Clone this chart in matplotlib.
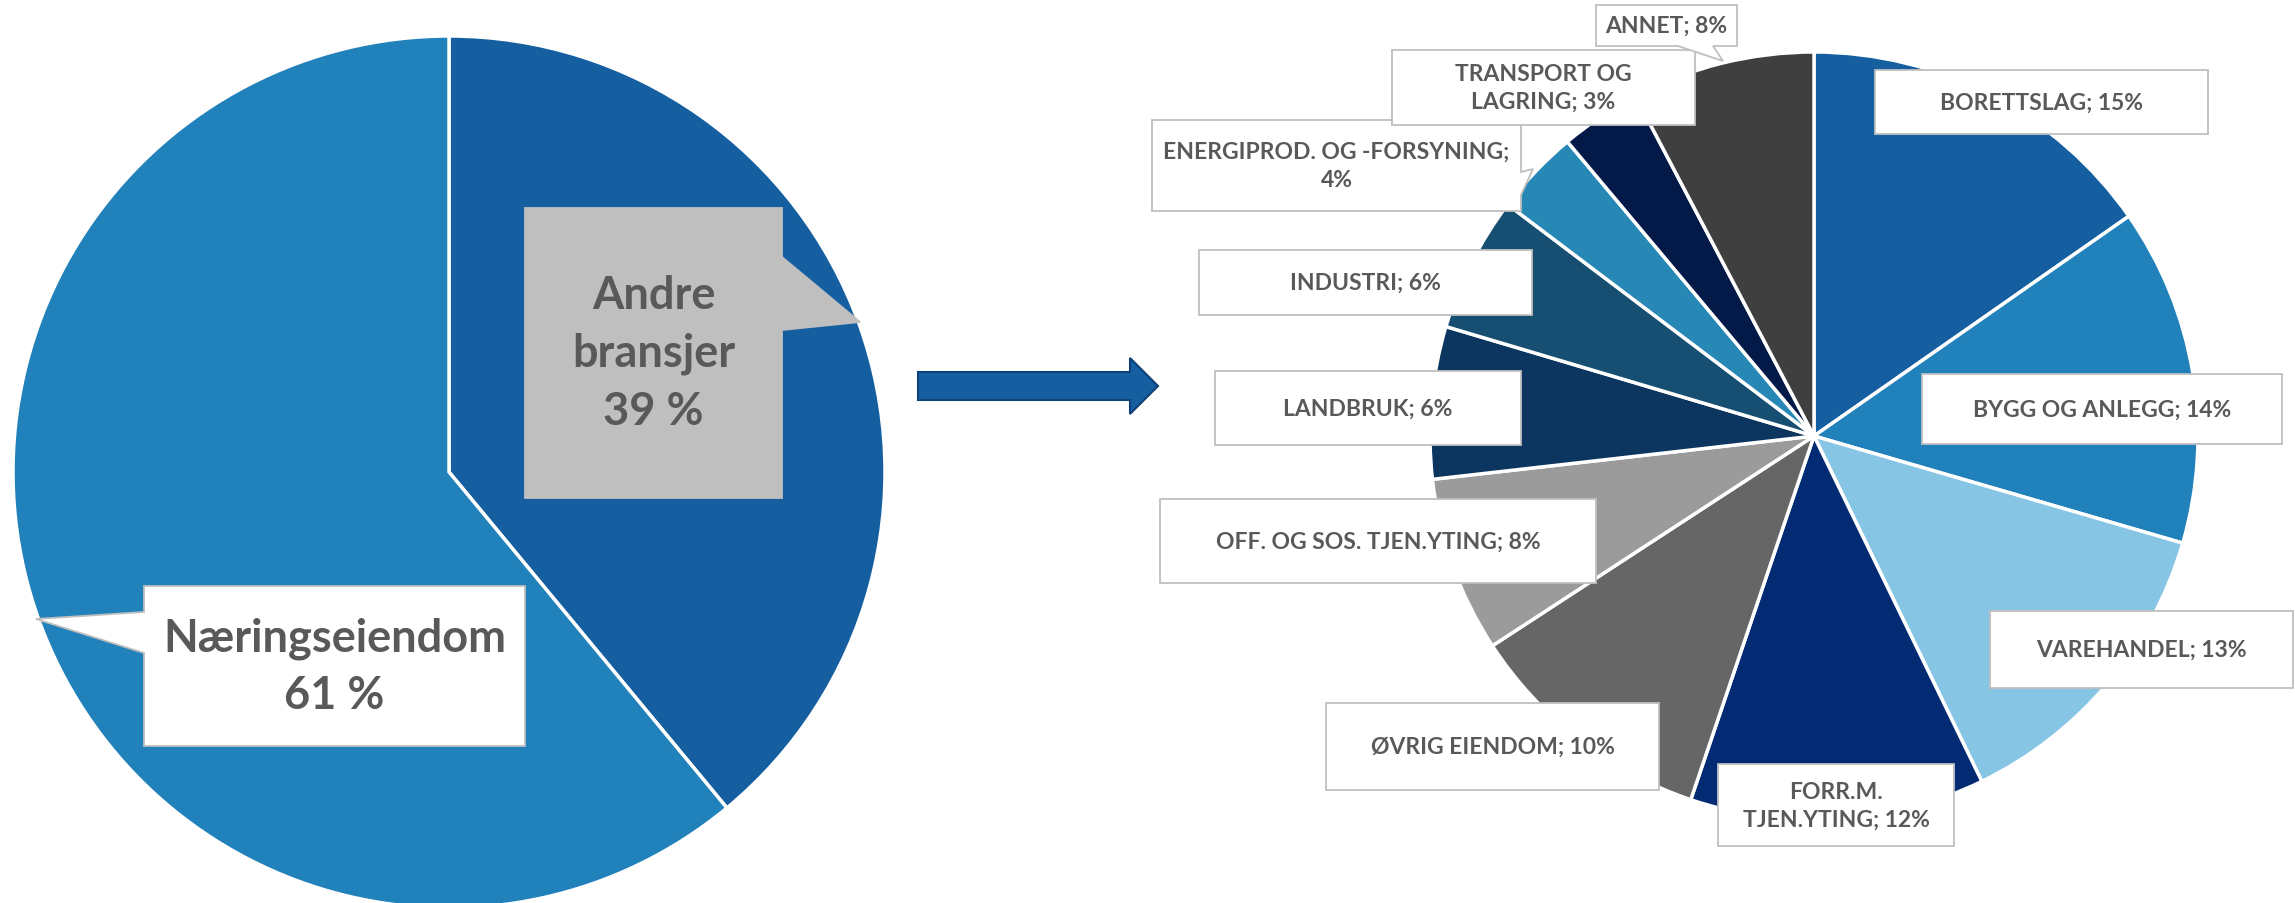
import matplotlib
matplotlib.use("Agg")
import matplotlib.pyplot as plt
import matplotlib.patches as mpatches

# left pie: share of loans
left_cats = ["Andre\nbransjer", "Næringseiendom"]
left_vals = [39, 61]
left_colors = ["#155FA0", "#2181BA"]

# right pie: breakdown of "andre bransjer"
right_cats = ["BORETTSLAG", "BYGG OG ANLEGG", "VAREHANDEL", "FORR.M.\nTJEN.YTING",
              "ØVRIG EIENDOM", "OFF. OG SOS. TJEN.YTING", "LANDBRUK", "INDUSTRI",
              "ENERGIPROD. OG -FORSYNING", "TRANSPORT OG\nLAGRING", "ANNET"]
right_vals = [15.3, 14.2, 13.3, 12.4, 10.6, 7.4, 6.4, 5.7, 3.6, 3.4, 7.7]
right_pct = [15, 14, 13, 12, 10, 8, 6, 6, 4, 3, 8]
right_colors = ["#155FA0", "#2181BA", "#87C5E4", "#032B74", "#666666", "#9B9B9B",
                "#0C3660", "#174F73", "#2788B5", "#031A48", "#3F3F3F"]

W, H = 2295, 904
TXT = "#595959"
EDGE = "#BFBFBF"
plt.rcParams['font.family'] = ['Lato', 'DejaVu Sans']


def Y(y):
    # layout positions are read top-down from the picture
    return H - y


def callout(ax, x0, y0, x1, y1, text, size, ls, fc="white", ec=EDGE, pointer=None, z=5):
    pts = [(x0, y0), (x1, y0)]
    if pointer and pointer[0] == "right":
        _, ya, yb, tip = pointer
        pts += [(x1, ya), tip, (x1, yb)]
    pts += [(x1, y1)]
    if pointer and pointer[0] == "bottom":
        _, xa, xb, tip = pointer
        pts += [(xb, y1), tip, (xa, y1)]
    pts += [(x0, y1)]
    if pointer and pointer[0] == "left":
        _, ya, yb, tip = pointer
        pts += [(x0, yb), tip, (x0, ya)]
    poly = mpatches.Polygon([(x, Y(y)) for x, y in pts], closed=True, fc=fc,
                            ec=ec, lw=1.3, zorder=z)
    ax.add_patch(poly)
    ax.text((x0 + x1) / 2, Y((y0 + y1) / 2), text, ha="center", va="center",
            fontsize=size, fontweight="bold", color=TXT, linespacing=ls, zorder=z + 1)


fig = plt.figure(figsize=(W / 100, H / 100), dpi=100)
ax = fig.add_axes([0, 0, 1, 1])

ax.pie(left_vals, colors=left_colors, startangle=90, counterclock=False,
       center=(449, Y(473)), radius=436,
       wedgeprops=dict(edgecolor="white", linewidth=2.5))
ax.pie(right_vals, colors=right_colors, startangle=90, counterclock=False,
       center=(1814, Y(437)), radius=384,
       wedgeprops=dict(edgecolor="white", linewidth=2.5))

ax.set_xlim(0, W)
ax.set_ylim(0, H)
ax.set_aspect("equal")
ax.axis("off")

# left pie labels
callout(ax, 525, 209, 782, 499, f"{left_cats[0]}\n{left_vals[0]} %", 32.5, 1.45,
        fc="#BFBFBF", ec="#BFBFBF", pointer=("right", 258, 331, (860, 323)))
callout(ax, 144, 587, 525, 747, f"{left_cats[1]}\n{left_vals[1]} %", 32.5, 1.45,
        pointer=("left", 613, 654, (36, 620)))

# arrow between pies
ax.add_patch(mpatches.FancyArrow(918, Y(387), 240, 0, width=28, head_width=56,
                                 head_length=28, length_includes_head=True,
                                 fc="#155FA0", ec="#0E4177", lw=1.5))

# right pie labels (box positions in picture pixels)
boxes = [
    (1875, 71, 2208, 135, None),
    (1922, 375, 2282, 445, None),
    (1990, 612, 2293, 689, None),
    (1718, 765, 1954, 847, None),
    (1326, 704, 1659, 791, None),
    (1160, 500, 1596, 584, None),
    (1215, 372, 1521, 446, None),
    (1199, 251, 1532, 316, None),
    (1152, 121, 1521, 212, ("right", 173, 196, (1533, 170))),
    (1392, 51, 1695, 126, None),
    (1596, 6, 1737, 47, ("bottom", 1678, 1713, (1723, 62))),
]
for cat, pct, (x0, y0, x1, y1, ptr) in zip(right_cats, right_pct, boxes):
    sep = ";\n" if cat.startswith("ENERGI") else "; "
    callout(ax, x0, y0, x1, y1, f"{cat}{sep}{pct}%", 16.5, 1.4, pointer=ptr)

fig.savefig("out.png", dpi=100)
